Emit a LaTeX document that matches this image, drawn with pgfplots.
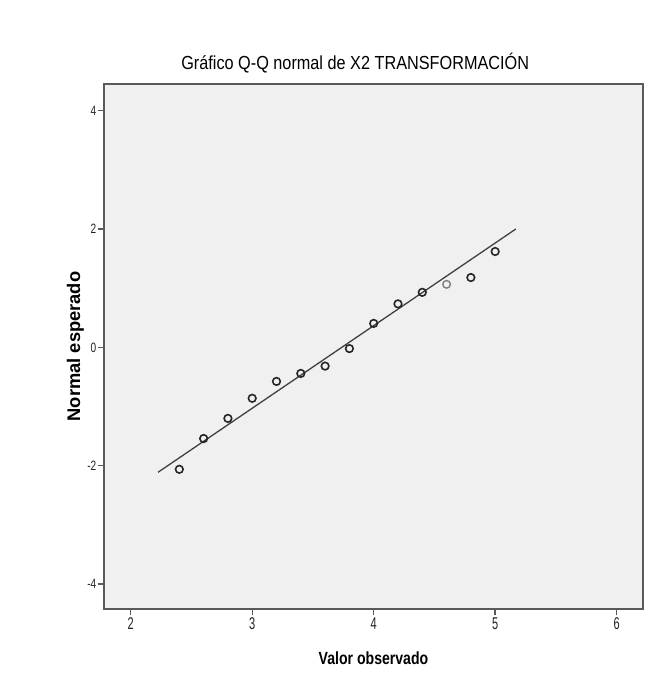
\documentclass[border=0pt]{standalone}
\usepackage{pgfplots}
\pgfplotsset{compat=1.18}
\usepackage{fontspec}
\setmainfont{Liberation Sans}
\newfontfamily\titlefont[FakeStretch=0.86]{Liberation Sans}
\newfontfamily\xlabfont[FakeStretch=0.8]{Liberation Sans}
\newfontfamily\ytickfam[FakeStretch=0.75]{Liberation Sans}
\newfontfamily\xtickfam[FakeStretch=0.65]{Liberation Sans}
\definecolor{bgc}{HTML}{F0F0F0}
\definecolor{framec}{HTML}{5A5A5A}
\definecolor{txtc}{HTML}{222222}
\begin{document}
\begin{tikzpicture}[x=1bp,y=1bp]
\path (0,0) rectangle (659,677);
\begin{axis}[
  at={(104bp,68bp)}, anchor=south west,
  scale only axis, width=539bp, height=525bp,
  xmin=1.78, xmax=6.217, ymin=-4.42, ymax=4.45,
  axis background/.style={fill=bgc},
  axis line style={draw=framec, line width=1.4bp},
  xtick={2,3,4,5,6}, xticklabels={2,3,4,5,6},
  ytick={-4,-2,0,2,4}, yticklabels={-4,-2,0,2,4},
  xtick pos=bottom, ytick pos=left,
  tick align=outside,
  major tick length=6.5bp,
  every tick/.style={draw=framec, line width=1.4bp},
  yticklabel style={font=\ytickfam\fontsize{13.5bp}{14bp}\selectfont, text=txtc, inner sep=1bp},
  xticklabel style={font=\xtickfam\fontsize{17bp}{18bp}\selectfont, text=txtc, inner sep=1bp, yshift=-1bp},
  title={Gráfico Q-Q normal de X2 TRANSFORMACIÓN},
  title style={font=\titlefont\fontsize{18.9bp}{20bp}\selectfont, text=black, at={(axis description cs:0.466,1.0158)}, anchor=base, inner sep=0pt},
  xlabel={Valor observado},
  xlabel style={font=\xlabfont\bfseries\fontsize{17.6bp}{19bp}\selectfont, text=black, at={(axis description cs:0.5,-0.1048)}, anchor=base, inner sep=0pt},
  ylabel={Normal esperado},
  ylabel style={font=\bfseries\fontsize{18.3bp}{19bp}\selectfont, text=black, at={(axis description cs:-0.0445,0.5)}, rotate=0, anchor=base, inner sep=0pt},
  clip=false,
]
\addplot[color=black!75, line width=1.3bp] coordinates {(2.225,-2.11) (5.17,2.00)};
\addplot[only marks, mark=o, mark size=3.8bp, mark options={draw=black!85, line width=1.6bp}] coordinates {
(2.4,-2.06) (2.6,-1.54) (2.8,-1.20) (3.0,-0.86) (3.2,-0.575) (3.4,-0.44)
(3.6,-0.316) (3.8,-0.02) (4.0,0.405) (4.2,0.735) (4.4,0.93) (4.8,1.18) (5.0,1.62)};
\addplot[only marks, mark=o, mark size=3.8bp, mark options={draw=black!50, line width=1.4bp}] coordinates {(4.6,1.065)};
\end{axis}
\end{tikzpicture}
\end{document}
